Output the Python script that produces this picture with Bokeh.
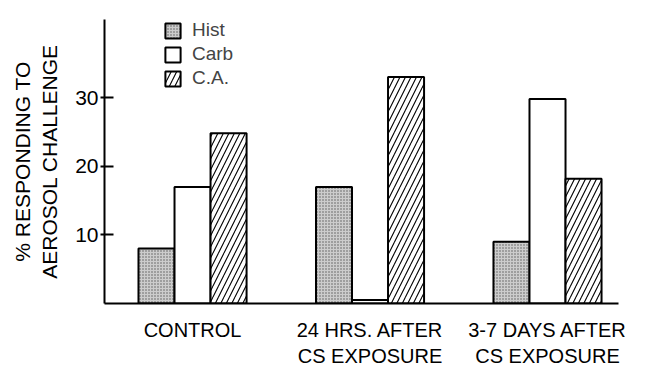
from bokeh.plotting import figure
from bokeh.models import Range1d, FixedTicker, Legend, LegendItem, ColumnDataSource
from bokeh.embed import file_html
from bokeh.resources import INLINE

# ---- data ----
groups = ["CONTROL", "24 HRS. AFTER\nCS EXPOSURE", "3-7 DAYS AFTER\nCS EXPOSURE"]
series = ["Hist", "Carb", "C.A."]
hist = [8, 17, 9]
carb = [17, 0.5, 29.8]
ca = [24.8, 33, 18.2]
y_ticks = [10, 20, 30]
y_label = "% RESPONDING TO\nAEROSOL CHALLENGE"

FONT = "Liberation Sans"
bar_w = 0.203
offsets = [-bar_w, 0.0, bar_w]
xs = list(range(len(groups)))

p = figure(width=659, height=369,
           x_range=Range1d(-0.496, 2.40), y_range=Range1d(0, 41.4),
           output_backend="svg", toolbar_location=None,
           min_border_left=104, min_border_right=41,
           min_border_top=19, min_border_bottom=54)
p.outline_line_color = None
p.xgrid.visible = False
p.ygrid.visible = False
p.background_fill_color = "white"
p.border_fill_color = "white"

styles = [
    dict(fill_color="#cccccc", hatch_pattern="dot", hatch_color="#5a5a5a", hatch_scale=3, hatch_weight=1),
    dict(fill_color="white"),
    dict(fill_color="white", hatch_pattern="right_diagonal_line", hatch_color="black", hatch_scale=11, hatch_weight=1.1),
]
renderers = []
for vals, off, st in zip([hist, carb, ca], offsets, styles):
    src = ColumnDataSource(dict(x=[x + off for x in xs], top=vals))
    r = p.vbar(x="x", top="top", bottom=0, width=bar_w, source=src,
               line_color="black", line_width=2, **st)
    renderers.append(r)

# axes
p.xaxis.ticker = FixedTicker(ticks=xs)
p.xaxis.major_label_overrides = {i: g for i, g in zip(xs, groups)}
p.xaxis.major_tick_line_color = None
p.xaxis.minor_tick_line_color = None
p.xaxis.axis_line_width = 2
p.xaxis.major_label_text_font = FONT
p.xaxis.major_label_text_font_size = "20px"
p.xaxis.major_label_text_color = "black"
p.xaxis.major_label_standoff = 9

p.yaxis.ticker = FixedTicker(ticks=y_ticks)
p.yaxis.axis_line_width = 2
p.yaxis.major_tick_line_width = 2
p.yaxis.major_tick_in = 9
p.yaxis.major_tick_out = 4
p.yaxis.minor_tick_line_color = None
p.yaxis.major_label_text_font = FONT
p.yaxis.major_label_text_font_size = "21px"
p.yaxis.major_label_text_color = "black"
p.yaxis.major_label_standoff = 2
p.yaxis.axis_label = y_label
p.yaxis.axis_label_text_font = FONT
p.yaxis.axis_label_text_font_size = "21px"
p.yaxis.axis_label_text_font_style = "normal"
p.yaxis.axis_label_text_color = "black"
p.yaxis.axis_label_standoff = 11

legend = Legend(items=[LegendItem(label=s, renderers=[r]) for s, r in zip(series, renderers)],
                location=(59, 214), orientation="vertical",
                glyph_width=19, glyph_height=19, label_standoff=10,
                label_text_font=FONT, label_text_font_size="19px",
                label_height=19, spacing=2, padding=0, margin=0,
                border_line_color=None, background_fill_alpha=0)
p.add_layout(legend, "center")

open("out.html", "w").write(file_html(p, INLINE))
